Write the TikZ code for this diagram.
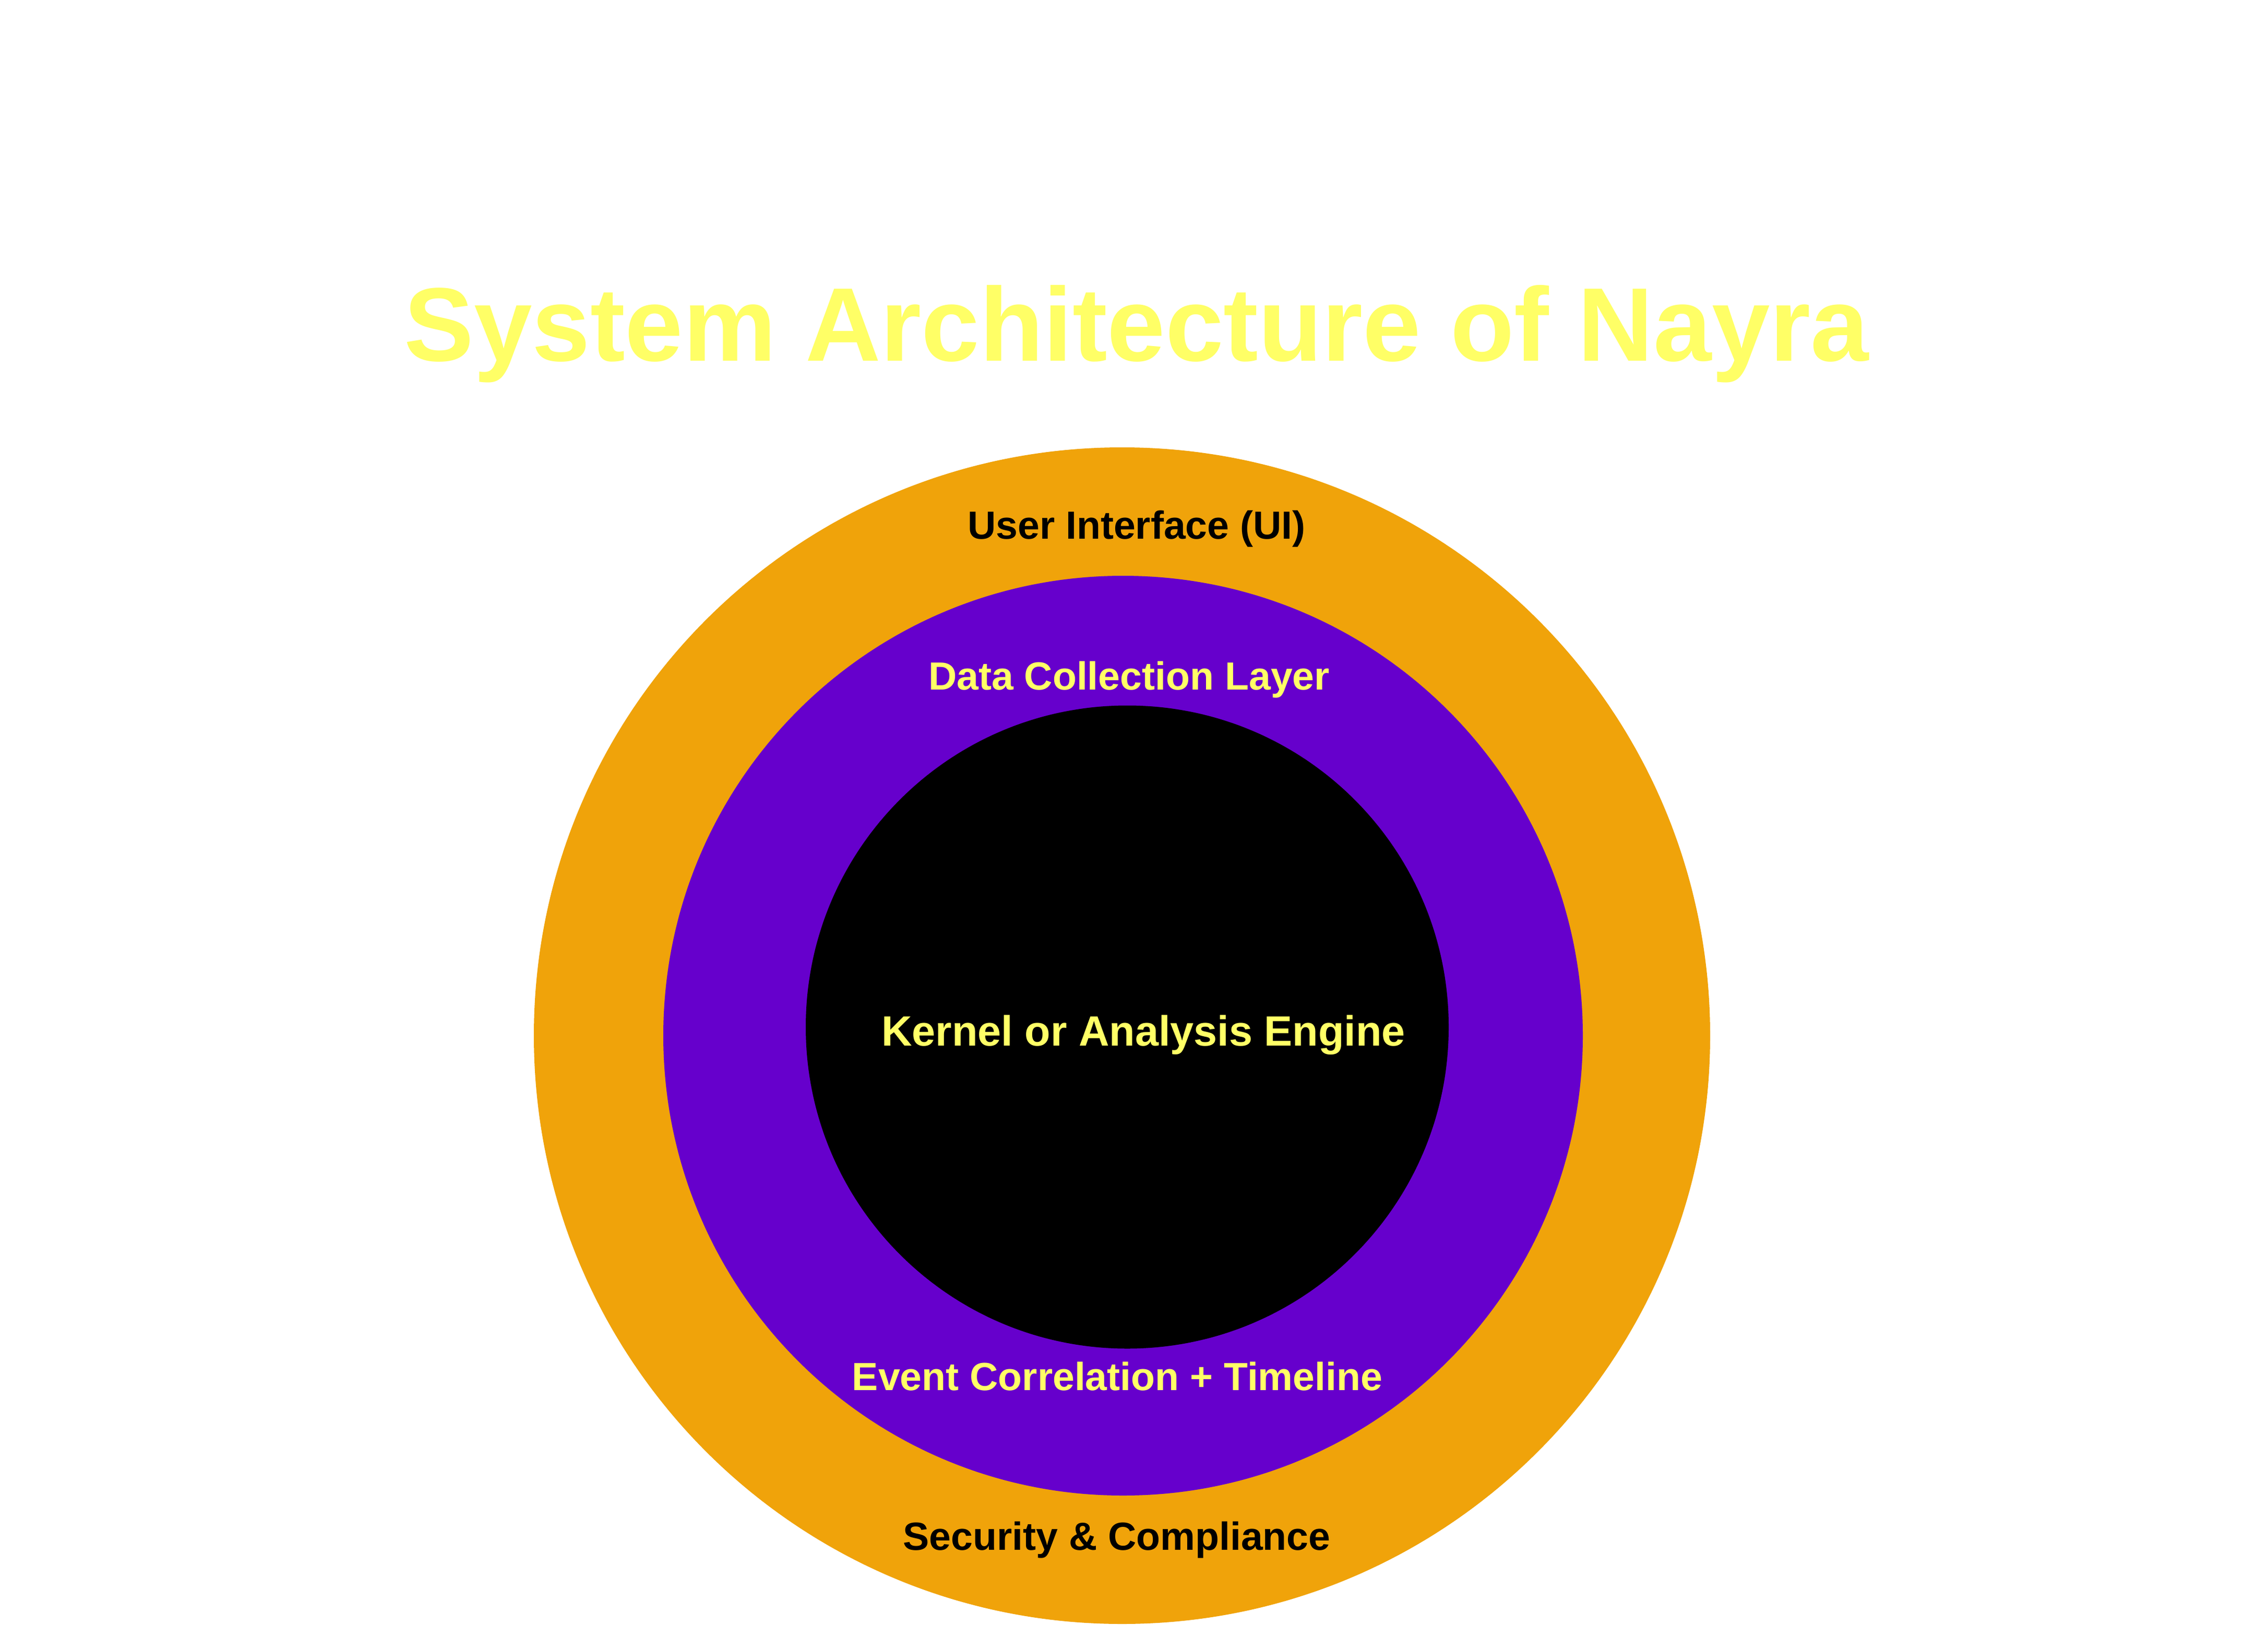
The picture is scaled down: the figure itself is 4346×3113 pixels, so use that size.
\documentclass[tikz,border=0pt]{standalone}
\usepackage{fontspec}
\setmainfont{Liberation Sans}
\definecolor{amber}{HTML}{F0A30A}
\definecolor{violetlayer}{HTML}{6600CC}
\definecolor{lemon}{HTML}{FFFF66}
\begin{document}
\begin{tikzpicture}[x=0.25pt,y=-0.25pt,
  ring/.style={circle,inner sep=0pt,outer sep=0pt,draw=none},
  lbl/.style={anchor=base,inner sep=0pt,font=\fontsize{18.8}{22}\selectfont\bfseries}]
\useasboundingbox (0,0) rectangle (4346,3113);
\node[ring,fill=amber,minimum size=563.5pt] (outer) at (2150,1984) {};
\node[ring,fill=violetlayer,minimum size=440.5pt] (middle) at (2152,1984) {};
\node[ring,fill=black,minimum size=308pt] (core) at (2160,1967.5) {};
\node[anchor=base,inner sep=0pt,text=lemon,font=\fontsize{50.1}{56}\selectfont\bfseries] (title) at (2178,691) {System Architecture of Nayra};
\node[lbl,text=black] (ui) at (2178,1032.7) {User Interface (UI)};
\node[lbl,text=lemon] (data) at (2163.5,1321.7) {Data Collection Layer};
\node[lbl,text=lemon,font=\fontsize{20.25}{24}\selectfont\bfseries] (kernel) at (2191,2003.3) {Kernel or Analysis Engine};
\node[lbl,text=lemon] (event) at (2141,2663.3) {Event Correlation + Timeline};
\node[lbl,text=black] (sec) at (2140,2969) {Security \& Compliance};
\end{tikzpicture}
\end{document}
